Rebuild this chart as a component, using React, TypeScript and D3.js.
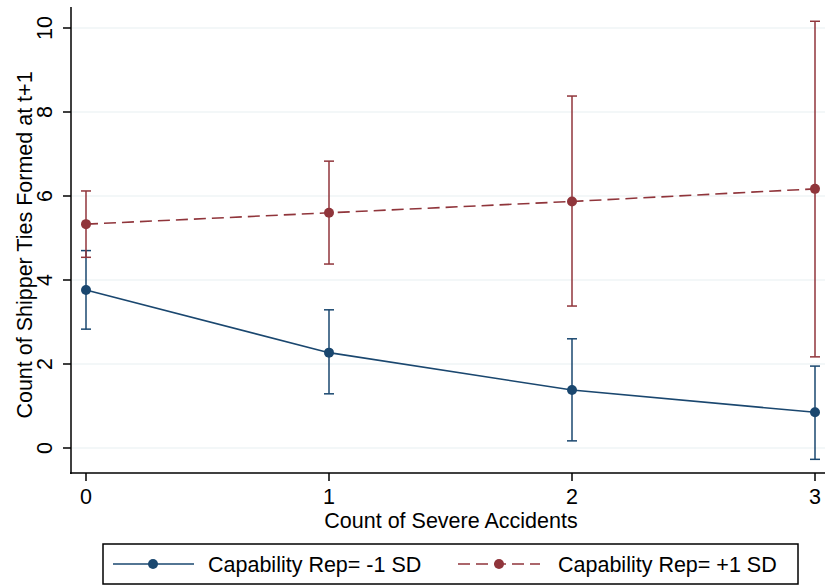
import React from 'react';
import * as d3 from 'd3';

// severe accident counts on x
const accidents = [0, 1, 2, 3];

// Capability Rep = -1 SD
const lowMean = [3.76, 2.27, 1.38, 0.85];
const lowUpper = [4.70, 3.29, 2.60, 1.95];
const lowLower = [2.83, 1.29, 0.17, -0.27];

// Capability Rep = +1 SD
const highMean = [5.33, 5.60, 5.87, 6.17];
const highUpper = [6.12, 6.83, 8.38, 10.16];
const highLower = [4.54, 4.38, 3.38, 2.17];

const yTicks = [0, 2, 4, 6, 8, 10];
const legendLabels = ['Capability Rep= -1 SD', 'Capability Rep= +1 SD'];

const NAVY = '#1a476f';
const MAROON = '#90353b';
const FONT = 'Arial, "Liberation Sans", sans-serif';
const FS = 21.5;

const W = 825;
const H = 586;

export default function App() {
  const x = d3.scaleLinear().domain([0, 3]).range([86, 815]);
  const y = d3.scaleLinear().domain([0, 10]).range([448, 28]);

  const line = d3.line<number>()
    .x((d, i) => x(accidents[i]))
    .y(d => y(d));

  const series = [
    { mean: lowMean, up: lowUpper, lo: lowLower, color: NAVY, dash: undefined },
    { mean: highMean, up: highUpper, lo: highLower, color: MAROON, dash: '12,6' },
  ];

  const cap = 5;

  return (
    <svg width={W} height={H} style={{ position: 'absolute', left: 0, top: 0, background: 'white' }}>
      {/* gridlines */}
      {yTicks.map(t => (
        <line key={'g' + t} x1={72} x2={825} y1={y(t)} y2={y(t)} stroke="#e8eff2" strokeWidth={1.2} />
      ))}

      {/* axes */}
      <line x1={71} x2={71} y1={7} y2={474} stroke="black" strokeWidth={1.5} />
      <line x1={70} x2={825} y1={473} y2={473} stroke="black" strokeWidth={1.5} />
      {yTicks.map(t => (
        <g key={'yt' + t}>
          <line x1={63} x2={71} y1={y(t)} y2={y(t)} stroke="black" strokeWidth={1.5} />
          <text
            transform={`translate(52,${y(t)}) rotate(-90)`}
            textAnchor="middle"
            fontFamily={FONT}
            fontSize={FS}
            fill="black"
          >{t}</text>
        </g>
      ))}
      {accidents.map(t => (
        <g key={'xt' + t}>
          <line x1={x(t)} x2={x(t)} y1={473} y2={481} stroke="black" strokeWidth={1.5} />
          <text x={x(t)} y={504} textAnchor="middle" fontFamily={FONT} fontSize={FS} fill="black">{t}</text>
        </g>
      ))}
      <text x={451} y={528} textAnchor="middle" fontFamily={FONT} fontSize={FS} fill="black">
        Count of Severe Accidents
      </text>
      <text
        transform={`translate(32,245) rotate(-90)`}
        textAnchor="middle"
        fontFamily={FONT}
        fontSize={FS}
        fill="black"
      >Count of Shipper Ties Formed at t+1</text>

      {/* series */}
      {series.map((s, si) => (
        <g key={'s' + si}>
          {accidents.map((a, i) => (
            <g key={'e' + i} stroke={s.color} strokeWidth={1.5}>
              <line x1={x(a)} x2={x(a)} y1={y(s.up[i])} y2={y(s.lo[i])} />
              <line x1={x(a) - cap} x2={x(a) + cap} y1={y(s.up[i])} y2={y(s.up[i])} />
              <line x1={x(a) - cap} x2={x(a) + cap} y1={y(s.lo[i])} y2={y(s.lo[i])} />
            </g>
          ))}
          <path d={line(s.mean) || ''} fill="none" stroke={s.color} strokeWidth={1.6} strokeDasharray={s.dash} />
          {accidents.map((a, i) => (
            <circle key={'c' + i} cx={x(a)} cy={y(s.mean[i])} r={5} fill={s.color} />
          ))}
        </g>
      ))}

      {/* legend */}
      <rect x={103} y={544} width={695} height={40} fill="white" stroke="black" strokeWidth={1.5} />
      <line x1={113} x2={194} y1={564} y2={564} stroke={NAVY} strokeWidth={1.6} />
      <circle cx={153} cy={564} r={5} fill={NAVY} />
      <text x={208} y={572} fontFamily={FONT} fontSize={FS} fill="black">{legendLabels[0]}</text>
      <line x1={458} x2={540} y1={564} y2={564} stroke={MAROON} strokeWidth={1.6} strokeDasharray="12,6" />
      <circle cx={499} cy={564} r={5} fill={MAROON} />
      <text x={558} y={572} fontFamily={FONT} fontSize={FS} fill="black">{legendLabels[1]}</text>
    </svg>
  );
}
